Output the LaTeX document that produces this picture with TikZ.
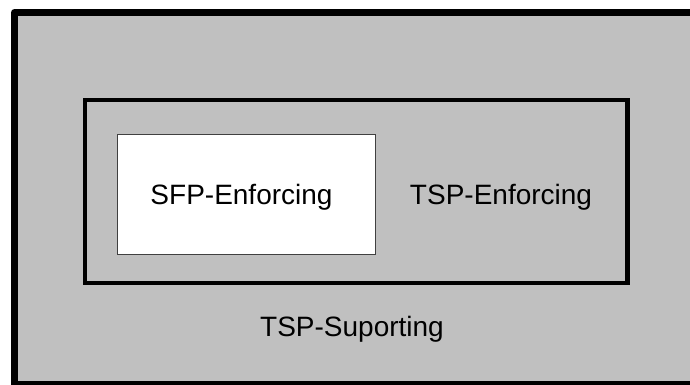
\documentclass[tikz,border=0pt]{standalone}
\usepackage{fontspec}
\setmainfont{Liberation Sans}
\definecolor{panelgray}{HTML}{C0C0C0}
\definecolor{boxedge}{HTML}{404040}
\begin{document}
\begin{tikzpicture}[x=1pt,y=1pt,
  lbl/.style={font=\fontsize{28}{32}\selectfont, anchor=base, inner sep=0pt}]
\useasboundingbox (0,0) rectangle (690,385);
\clip (0,0) rectangle (690,385);
% outer region
\draw[line width=7pt, fill=panelgray, line join=round] (14.5,0.5) rectangle (700,372.5);
% TSP-Enforcing region
\draw[line width=4.5pt, line join=miter] (85,102) rectangle (627.5,285);
% SFP-Enforcing box
\draw[draw=boxedge, line width=0.9pt, fill=white] (117.5,131) rectangle (375,251);
\node[lbl] (sfp) at (241.5,180) {SFP-Enforcing};
\node[lbl] (tspe) at (501,180) {TSP-Enforcing};
\node[lbl] (tsps) at (352,48) {TSP-Suporting};
\end{tikzpicture}
\end{document}
